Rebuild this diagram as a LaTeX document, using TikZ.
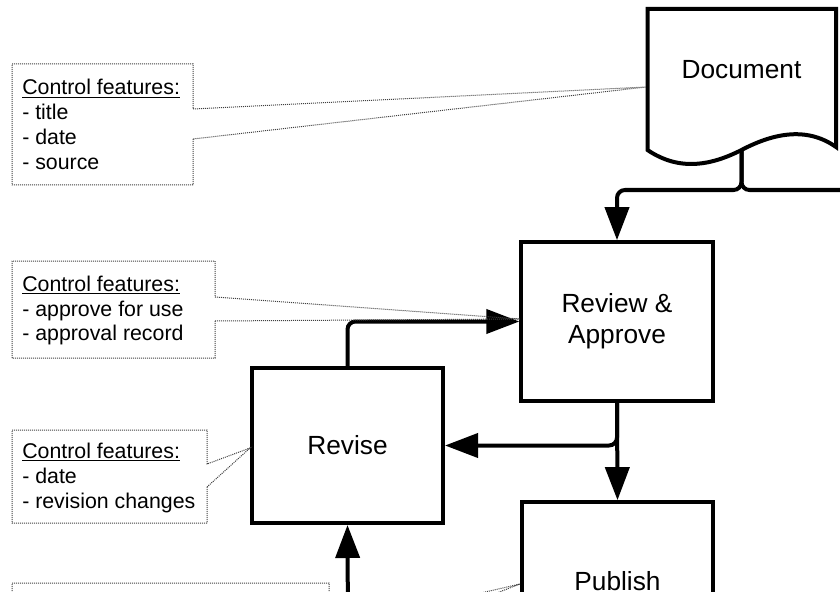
\documentclass[tikz,border=0pt]{standalone}
\usepackage{fontspec}
\setmainfont{Liberation Sans}
\usetikzlibrary{arrows.meta}
\begin{document}
\begin{tikzpicture}[x=0.75pt,y=-0.75pt,
  box/.style={draw, line width=3pt, minimum width=143.5pt, minimum height=119pt,
    align=center, inner sep=0pt, font=\fontsize{19.7pt}{23pt}\selectfont},
  flow/.style={line width=3pt, rounded corners=6pt, -{Triangle[length=24.75pt,width=18pt]}},
  wire/.style={line width=3pt, rounded corners=6pt},
  callout/.style={draw=black!75, line width=0.75pt, dash pattern=on 0.75pt off 0.75pt},
  note/.style={anchor=base west, inner sep=0pt, font=\fontsize{16pt}{18.75pt}\selectfont}
]
\useasboundingbox (0,0) rectangle (840,592);
\clip (0,0) rectangle (840,592);

% Document shape
\draw[line width=3pt, line join=miter] (647.5,9) -- (836,9) -- (836,147)
  .. controls (805,125) and (770,135) .. (741.5,150)
  .. controls (712,165) and (680,172) .. (647.5,150) -- cycle;
\node[inner sep=0pt, outer sep=0pt, minimum width=141.4pt, minimum height=105.75pt] (doc) at (741.5,79.5) {};
\node[font=\fontsize{19.7pt}{23pt}\selectfont] (doctext) at (741.5,70) {Document};

% process boxes
\node[box] (review) at (617,321.5) {Review \&\\Approve};
\node[box, minimum width=143.25pt, minimum height=116.25pt] (revise) at (347.5,445.5) {Revise};
\node[box] (publish) at (617.5,581.5) {Publish};

% connectors
\coordinate (offR) at (880,190);
\coordinate (offB) at (348,640);
\draw[flow] (doc.south) -- ++(0,40) -| (review.north);
\draw[wire] (doc.south) -- ++(0,40) -- (offR);
\draw[flow] (review.south) -- (publish.north);
\draw[flow] (review.south) |- (revise.east);
\draw[flow] (revise.north) |- (review.west);
\draw[flow] (offB) -- (revise.south);

% callouts
\coordinate (t1) at (646,87);
\coordinate (t2) at (520,319);
\coordinate (t3) at (250,448);
\coordinate (t4) at (520,584);

\draw[callout] (193,139) -- (193,185) -- (12,185) -- (12,64) -- (193,64) -- (193,109) -- (t1) -- cycle;
\node[note] (n1) at (22,95) {\begin{tabular}[t]{@{}l@{}}\underline{Control features:}\\- title\\- date\\- source\end{tabular}};

\draw[callout] (215,321) -- (215,358) -- (12,358) -- (12,261) -- (215,261) -- (215,297) -- (t2) -- cycle;
\node[note] (n2) at (22,291) {\begin{tabular}[t]{@{}l@{}}\underline{Control features:}\\- approve for use\\- approval record\end{tabular}};

\draw[callout] (207,487) -- (207,523) -- (12,523) -- (12,430) -- (207,430) -- (207,464) -- (t3) -- cycle;
\node[note] (n3) at (22,458) {\begin{tabular}[t]{@{}l@{}}\underline{Control features:}\\- date\\- revision changes\end{tabular}};

\draw[callout] (329,658) -- (329,700) -- (12,700) -- (12,583) -- (329,583) -- (329,628) -- (t4) -- cycle;
\end{tikzpicture}
\end{document}
